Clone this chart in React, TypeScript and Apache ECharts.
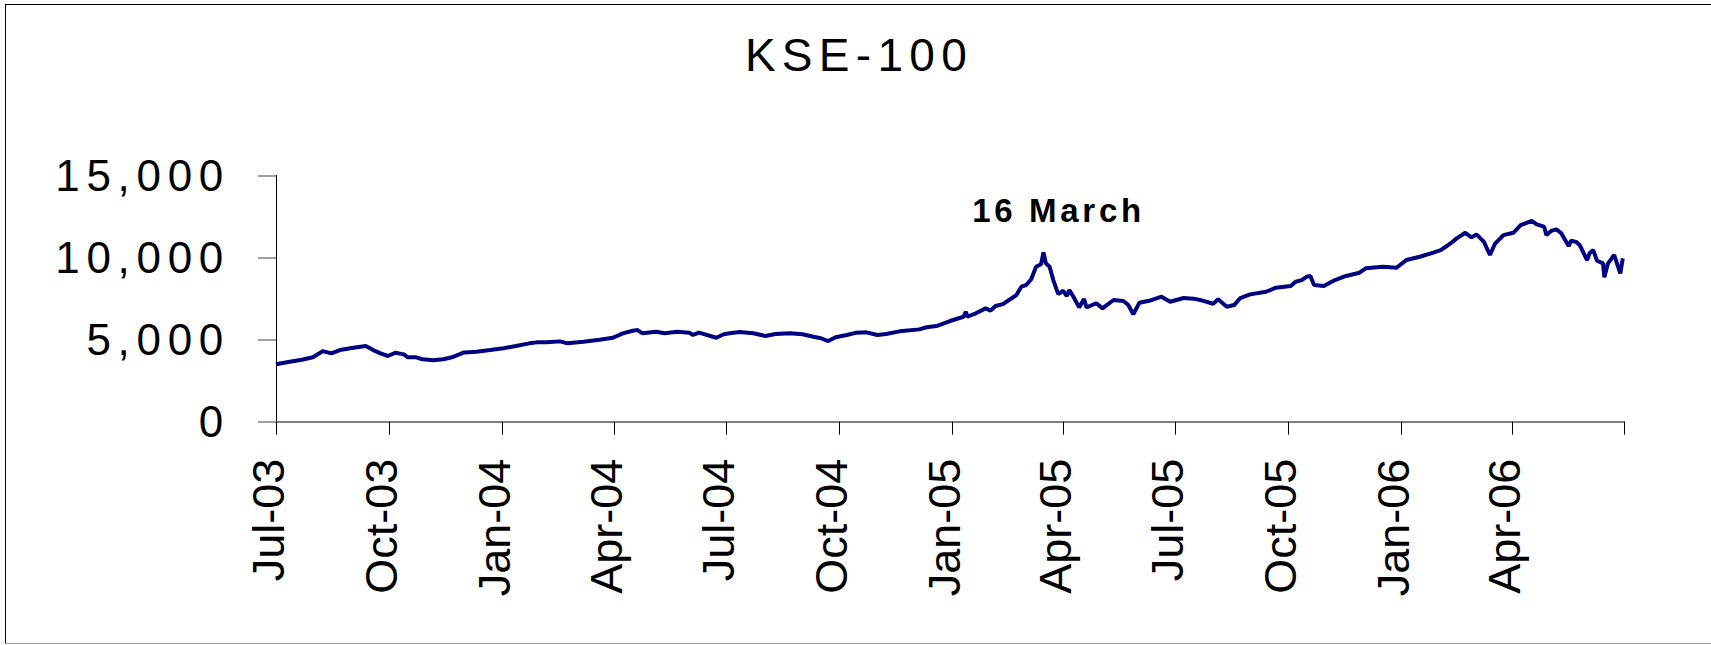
import React, { useEffect, useRef } from 'react';
import * as echarts from 'echarts';

const TITLE = 'KSE-100';
const ANNOTATION = '16 March';
const ANNOTATION_DATE = '2005-03-16';
const ANNOTATION_VALUE = 10300;

const tickDates = [
  '2003-07-01', '2003-10-01', '2004-01-01', '2004-04-01', '2004-07-01', '2004-10-01',
  '2005-01-01', '2005-04-01', '2005-07-01', '2005-10-01', '2006-01-01', '2006-04-01', '2006-07-01',
];
const tickLabels = [
  'Jul-03', 'Oct-03', 'Jan-04', 'Apr-04', 'Jul-04', 'Oct-04',
  'Jan-05', 'Apr-05', 'Jul-05', 'Oct-05', 'Jan-06', 'Apr-06', '',
];

const Y_MIN = 0;
const Y_MAX = 15000;
const Y_STEP = 5000;

const dates = [
  '2003-07-01', '2003-07-11', '2003-07-22', '2003-07-31', '2003-08-08', '2003-08-15', '2003-08-22',
  '2003-09-02', '2003-09-12', '2003-09-18', '2003-09-24', '2003-09-30', '2003-10-06', '2003-10-13',
  '2003-10-16', '2003-10-23', '2003-10-28', '2003-11-06', '2003-11-14', '2003-11-21', '2003-12-01',
  '2003-12-11', '2003-12-22', '2004-01-02', '2004-01-12', '2004-01-23', '2004-01-29', '2004-02-06',
  '2004-02-17', '2004-02-23', '2004-03-07', '2004-03-20', '2004-03-31', '2004-04-08', '2004-04-16',
  '2004-04-20', '2004-04-24', '2004-05-05', '2004-05-12', '2004-05-22', '2004-06-01', '2004-06-04',
  '2004-06-09', '2004-06-23', '2004-06-29', '2004-07-04', '2004-07-12', '2004-07-23', '2004-08-02',
  '2004-08-10', '2004-08-22', '2004-09-01', '2004-09-10', '2004-09-16', '2004-09-22', '2004-09-28',
  '2004-10-07', '2004-10-15', '2004-10-23', '2004-11-01', '2004-11-08', '2004-11-19', '2004-12-05',
  '2004-12-11', '2004-12-19', '2004-12-30', '2005-01-10', '2005-01-12', '2005-01-13', '2005-01-20',
  '2005-01-28', '2005-02-01', '2005-02-05', '2005-02-11', '2005-02-16', '2005-02-22', '2005-02-26',
  '2005-03-02', '2005-03-06', '2005-03-10', '2005-03-14', '2005-03-16', '2005-03-18', '2005-03-21',
  '2005-03-24', '2005-03-28', '2005-04-01', '2005-04-04', '2005-04-06', '2005-04-09', '2005-04-14',
  '2005-04-18', '2005-04-20', '2005-04-28', '2005-05-03', '2005-05-12', '2005-05-20', '2005-05-24',
  '2005-05-28', '2005-06-02', '2005-06-10', '2005-06-20', '2005-06-27', '2005-07-05', '2005-07-08',
  '2005-07-16', '2005-07-24', '2005-08-01', '2005-08-05', '2005-08-12', '2005-08-18', '2005-08-23',
  '2005-08-31', '2005-09-13', '2005-09-21', '2005-10-03', '2005-10-07', '2005-10-12', '2005-10-16',
  '2005-10-19', '2005-10-22', '2005-10-30', '2005-11-08', '2005-11-17', '2005-11-28', '2005-12-03',
  '2005-12-17', '2005-12-28', '2006-01-05', '2006-01-16', '2006-01-27', '2006-02-02', '2006-02-06',
  '2006-02-11', '2006-02-15', '2006-02-22', '2006-02-27', '2006-03-03', '2006-03-09', '2006-03-14',
  '2006-03-18', '2006-03-25', '2006-04-02', '2006-04-08', '2006-04-17', '2006-04-21', '2006-04-27',
  '2006-04-29', '2006-05-03', '2006-05-07', '2006-05-11', '2006-05-17', '2006-05-19', '2006-05-23',
  '2006-05-26', '2006-06-01', '2006-06-03', '2006-06-06', '2006-06-09', '2006-06-14', '2006-06-15',
  '2006-06-18', '2006-06-23', '2006-06-28', '2006-06-30',
];

const values = [
  3500, 3630, 3770, 3920, 4300, 4160, 4360,
  4500, 4610, 4360, 4160, 4000, 4200, 4100,
  3920, 3920, 3800, 3740, 3800, 3920, 4220,
  4260, 4360, 4470, 4610, 4770, 4830, 4830,
  4890, 4770, 4870, 4990, 5110, 5380, 5540,
  5580, 5380, 5480, 5380, 5480, 5420, 5280,
  5420, 5110, 5320, 5380, 5460, 5380, 5220,
  5340, 5380, 5320, 5170, 5080, 4910, 5140,
  5280, 5420, 5440, 5280, 5340, 5500, 5620,
  5750, 5820, 6130, 6390, 6700, 6390, 6600,
  6900, 6760, 7040, 7160, 7410, 7710, 8220,
  8320, 8670, 9430, 9580, 10300, 9640, 9430,
  8620, 7770, 7970, 7650, 8010, 7650, 6960,
  7470, 6960, 7210, 6900, 7410, 7350, 7100,
  6540, 7240, 7360, 7610, 7300, 7470, 7530,
  7490, 7360, 7180, 7450, 7000, 7100, 7530,
  7750, 7910, 8160, 8260, 8520, 8620, 8830,
  8870, 8320, 8260, 8620, 8870, 9070, 9340,
  9430, 9370, 9840, 10040, 10290, 10450, 10650,
  10920, 11160, 11500, 11220, 11400, 10960, 10150,
  10820, 11360, 11500, 11970, 12230, 12010, 11870,
  11360, 11620, 11710, 11470, 10690, 11020, 10950,
  10750, 9840, 10250, 10450, 9800, 9640, 8790,
  9640, 10150, 9030, 9940,
];

const toTs = (s: string) => Date.parse(s + 'T00:00:00Z');
const FONT = '"Liberation Sans", Arial, Helvetica, sans-serif';

export default function App() {
  const ref = useRef<HTMLDivElement>(null);

  useEffect(() => {
    document.body.style.margin = '0';
    const el = ref.current as HTMLDivElement;
    const chart = echarts.init(el, null, { renderer: 'svg' });
    const labelMap = new Map<number, string>(tickDates.map((d, i) => [toTs(d), tickLabels[i]]));

    const option: any = {
      animation: false,
      backgroundColor: '#ffffff',
      grid: { left: 276, right: 87, top: 175.3, bottom: 223.3, containLabel: false, outerBoundsMode: 'none' },
      xAxis: {
        type: 'value',
        min: toTs(tickDates[0]),
        max: toTs(tickDates[tickDates.length - 1]),
        axisLine: { show: true, onZero: false, lineStyle: { color: '#808080', width: 2 } },
        axisTick: {
          show: true,
          customValues: tickDates.map(toTs),
          length: 13,
          lineStyle: { color: '#000000', width: 1 },
        },
        axisLabel: {
          customValues: tickDates.slice(0, -1).map(toTs),
          rotate: 90,
          margin: 37,
          fontSize: 45,
          fontFamily: FONT,
          color: '#000000',
          verticalAlign: 'bottom',
          lineHeight: 16,
          formatter: (v: number) => labelMap.get(v) ?? '',
        },
        splitLine: { show: false },
      },
      yAxis: {
        type: 'value',
        min: Y_MIN,
        max: Y_MAX,
        interval: Y_STEP,
        axisLine: { show: true, lineStyle: { color: '#000000', width: 1 } },
        axisTick: { show: true, length: 18, lineStyle: { color: '#808080', width: 1.5 } },
        axisLabel: {
          margin: 46,
          fontSize: 44,
          fontFamily: FONT,
          color: '#000000',
          formatter: (v: number) => v.toLocaleString('en-US'),
        },
        splitLine: { show: false },
      },
      series: [
        {
          type: 'line',
          data: dates.map((d, i) => [toTs(d), values[i]]),
          showSymbol: false,
          symbol: 'none',
          lineStyle: { color: '#000080', width: 4 },
          itemStyle: { color: '#000080' },
          z: 3,
          markPoint: {
            symbol: 'circle',
            symbolSize: 1,
            itemStyle: { color: 'rgba(0,0,0,0)' },
            label: {
              show: true,
              position: 'inside',
              offset: [15, -42.5],
              formatter: ANNOTATION,
              fontSize: 33,
              fontWeight: 'bold',
              fontFamily: FONT,
              color: '#000000',
            },
            data: [{ coord: [toTs(ANNOTATION_DATE), ANNOTATION_VALUE] }],
          },
        },
      ],
      graphic: [
        {
          type: 'text',
          x: 859,
          y: 55,
          style: {
            text: TITLE,
            fontSize: 46,
            fontFamily: FONT,
            fill: '#000000',
            align: 'center',
            verticalAlign: 'middle',
          },
        },
        { type: 'line', shape: { x1: 5, y1: 4.5, x2: 1711, y2: 4.5 }, style: { stroke: '#000000', lineWidth: 1 } },
        { type: 'line', shape: { x1: 5.5, y1: 4, x2: 5.5, y2: 644 }, style: { stroke: '#000000', lineWidth: 1 } },
        { type: 'line', shape: { x1: 5, y1: 643.5, x2: 1711, y2: 643.5 }, style: { stroke: '#a0a0a0', lineWidth: 1 } },
      ],
    };

    chart.setOption(option);

    const applySpacing = () => {
      el.querySelectorAll('text').forEach((t) => {
        const s = t.textContent || '';
        if (s === TITLE) t.setAttribute('letter-spacing', '6.3');
        else if (s === ANNOTATION) t.setAttribute('letter-spacing', '3.7');
        else if (/^[0-9,]+$/.test(s)) t.setAttribute('letter-spacing', '6.7');
      });
    };
    applySpacing();
    chart.on('finished', applySpacing);

    return () => {
      chart.dispose();
    };
  }, []);

  return <div ref={ref} style={{ position: 'fixed', left: 0, top: 0, width: 1711, height: 645 }} />;
}
